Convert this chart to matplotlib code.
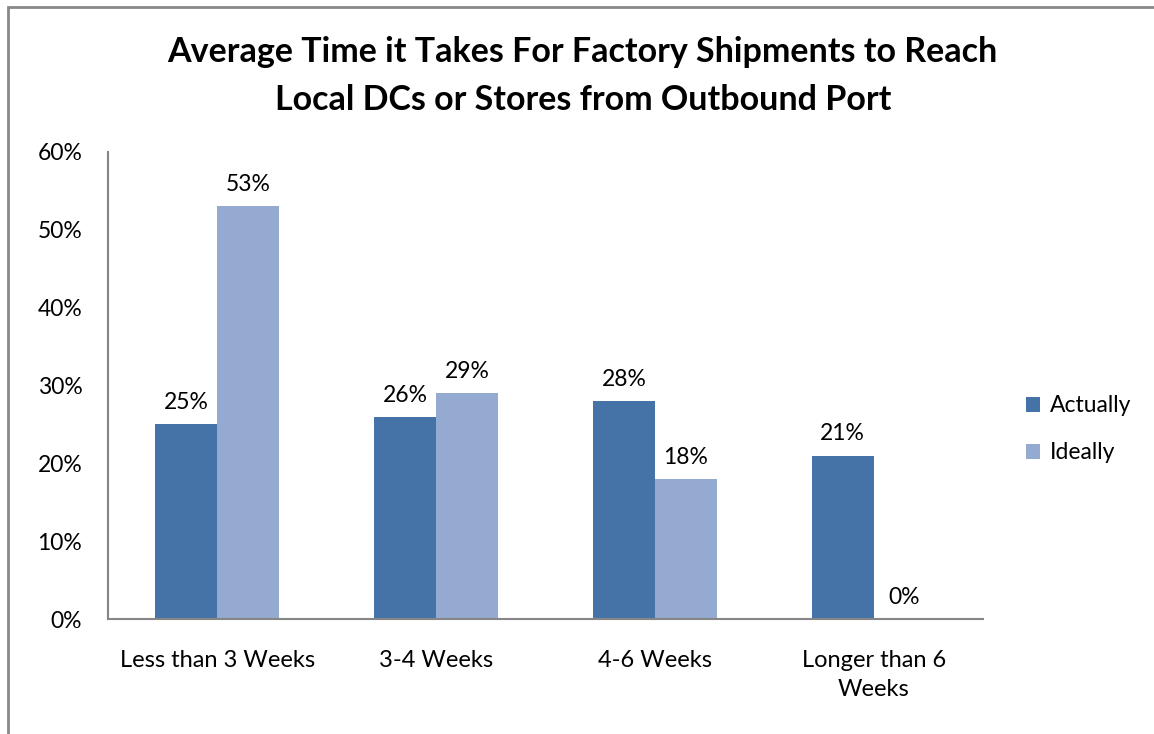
import matplotlib.pyplot as plt
import numpy as np
from matplotlib.patches import Rectangle

plt.rcParams['font.family'] = ['Lato', 'DejaVu Sans']

# data
categories = ['Less than 3 Weeks', '3-4 Weeks', '4-6 Weeks', 'Longer than 6\nWeeks']
actually = [25, 26, 28, 21]
ideally = [53, 29, 18, 0]
series_names = ['Actually', 'Ideally']
colors = ['#4573A8', '#95AAD0']

fig = plt.figure(figsize=(11.54, 7.34), dpi=100)

# outer chart border (Excel style)
fig.patches.append(Rectangle((8 / 1154, -0.01), 1.1, 1 - 7 / 734 + 0.01, transform=fig.transFigure,
                             fill=False, edgecolor='#898989', linewidth=2))

ax = fig.add_axes([108 / 1154, 1 - 619 / 734, (983 - 108) / 1154, (619 - 152) / 734])

x = np.arange(len(categories))
w = 0.283
b1 = ax.bar(x - w / 2, actually, w, color=colors[0], label=series_names[0])
b2 = ax.bar(x + w / 2, ideally, w, color=colors[1], label=series_names[1])

for bars, vals in [(b1, actually), (b2, ideally)]:
    for bar, v in zip(bars, vals):
        ax.annotate('%d%%' % v, (bar.get_x() + bar.get_width() / 2, v), xytext=(0, 8),
                    textcoords='offset points', ha='center', va='bottom', fontsize=16.5)

ax.set_xlim(-0.5, len(categories) - 0.5)
ax.set_ylim(0, 60)
ax.set_yticks(range(0, 61, 10))
ax.set_yticklabels(['%d%%' % t for t in range(0, 61, 10)], fontsize=16.5)
ax.set_xticks(x)
ax.set_xticklabels(categories, fontsize=17, linespacing=1.5)
ax.tick_params(length=0, pad=18.5, axis='y')
ax.tick_params(length=0, pad=22, axis='x')
for s in ['top', 'right']:
    ax.spines[s].set_visible(False)
for s in ['left', 'bottom']:
    ax.spines[s].set_color('#868686')
    ax.spines[s].set_linewidth(1.5)

ax.legend(loc='center left', bbox_to_anchor=(1.025, 0.406), frameon=False, fontsize=16.5,
          handlelength=0.65, handleheight=0.65, labelspacing=1.13, handletextpad=0.4)

fig.text(0.505, 1 - 76 / 734, 'Average Time it Takes For Factory Shipments to Reach\nLocal DCs or Stores from Outbound Port',
         ha='center', va='center', fontsize=24.5, fontweight='bold', linespacing=1.6)

fig.savefig('out.png', dpi=100)
